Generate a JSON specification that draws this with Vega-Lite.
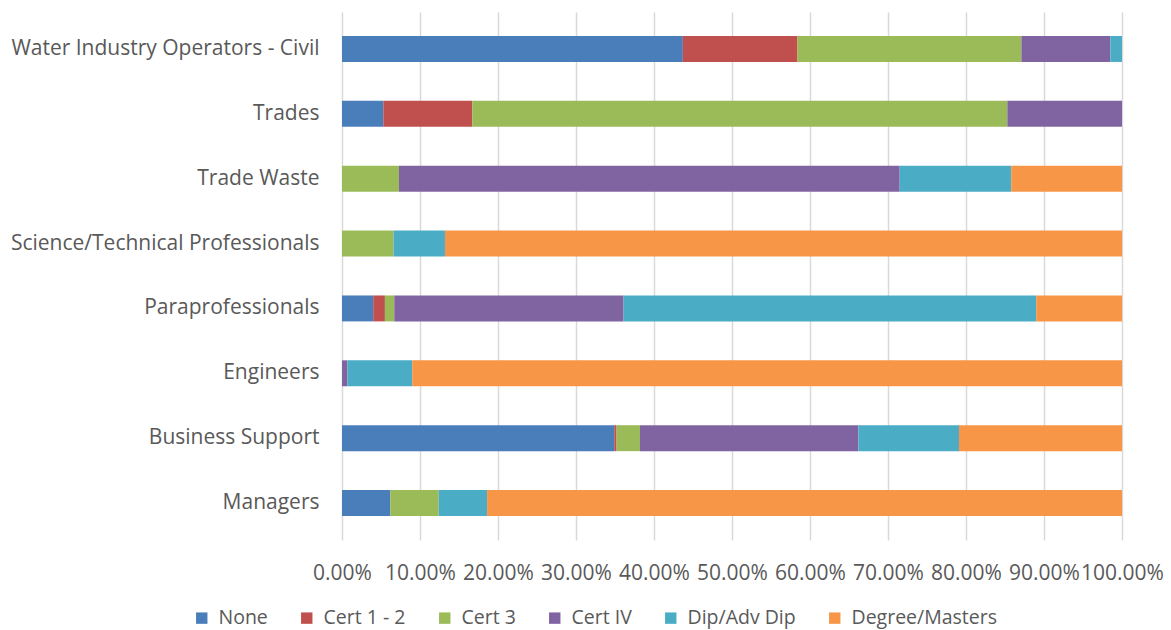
{
  "$schema": "https://vega.github.io/schema/vega-lite/v6.json",
  "autosize": {"type": "none"},
  "width": 780,
  "height": 528,
  "padding": {"left": 342, "top": 12, "right": 49, "bottom": 90},
  "background": "white",
  "config": {
    "font": "Open Sans",
    "view": {"stroke": null},
    "axis": {"labelColor": "#595959", "labelFont": "Open Sans", "titleColor": "#595959"},
    "legend": {"labelColor": "#595959", "labelFont": "Open Sans"}
  },
  "data": {
    "values": [
      {"role": "Water Industry Operators - Civil", "level": "None", "share": 0.437},
      {"role": "Water Industry Operators - Civil", "level": "Cert 1 - 2", "share": 0.147},
      {"role": "Water Industry Operators - Civil", "level": "Cert 3", "share": 0.287},
      {"role": "Water Industry Operators - Civil", "level": "Cert IV", "share": 0.114},
      {"role": "Water Industry Operators - Civil", "level": "Dip/Adv Dip", "share": 0.015},
      {"role": "Trades", "level": "None", "share": 0.053},
      {"role": "Trades", "level": "Cert 1 - 2", "share": 0.114},
      {"role": "Trades", "level": "Cert 3", "share": 0.686},
      {"role": "Trades", "level": "Cert IV", "share": 0.147},
      {"role": "Trade Waste", "level": "Cert 3", "share": 0.073},
      {"role": "Trade Waste", "level": "Cert IV", "share": 0.642},
      {"role": "Trade Waste", "level": "Dip/Adv Dip", "share": 0.143},
      {"role": "Trade Waste", "level": "Degree/Masters", "share": 0.142},
      {"role": "Science/Technical Professionals", "level": "Cert 3", "share": 0.066},
      {"role": "Science/Technical Professionals", "level": "Dip/Adv Dip", "share": 0.066},
      {"role": "Science/Technical Professionals", "level": "Degree/Masters", "share": 0.868},
      {"role": "Paraprofessionals", "level": "None", "share": 0.04},
      {"role": "Paraprofessionals", "level": "Cert 1 - 2", "share": 0.015},
      {"role": "Paraprofessionals", "level": "Cert 3", "share": 0.012},
      {"role": "Paraprofessionals", "level": "Cert IV", "share": 0.294},
      {"role": "Paraprofessionals", "level": "Dip/Adv Dip", "share": 0.529},
      {"role": "Paraprofessionals", "level": "Degree/Masters", "share": 0.11},
      {"role": "Engineers", "level": "Cert IV", "share": 0.007},
      {"role": "Engineers", "level": "Dip/Adv Dip", "share": 0.083},
      {"role": "Engineers", "level": "Degree/Masters", "share": 0.91},
      {"role": "Business Support", "level": "None", "share": 0.349},
      {"role": "Business Support", "level": "Cert 1 - 2", "share": 0.003},
      {"role": "Business Support", "level": "Cert 3", "share": 0.03},
      {"role": "Business Support", "level": "Cert IV", "share": 0.28},
      {"role": "Business Support", "level": "Dip/Adv Dip", "share": 0.129},
      {"role": "Business Support", "level": "Degree/Masters", "share": 0.209},
      {"role": "Managers", "level": "None", "share": 0.062},
      {"role": "Managers", "level": "Cert 3", "share": 0.062},
      {"role": "Managers", "level": "Dip/Adv Dip", "share": 0.062},
      {"role": "Managers", "level": "Degree/Masters", "share": 0.814}
    ]
  },
  "transform": [
    {"window": [{"op": "row_number", "as": "seq"}], "groupby": ["role"]}
  ],
  "mark": {"type": "bar"},
  "encoding": {
    "y": {
      "field": "role",
      "type": "nominal",
      "sort": ["Water Industry Operators - Civil", "Trades", "Trade Waste", "Science/Technical Professionals", "Paraprofessionals", "Engineers", "Business Support", "Managers"],
      "scale": {"paddingInner": 0.6, "paddingOuter": 0.37},
      "axis": {
        "title": null,
        "domain": false,
        "ticks": false,
        "labelFontSize": 21,
        "labelPadding": 23,
        "labelLimit": 400
      }
    },
    "x": {
      "field": "share",
      "type": "quantitative",
      "stack": "zero",
      "scale": {"domain": [0, 1], "nice": false},
      "axis": {
        "title": null,
        "format": ".2%",
        "values": [0, 0.1, 0.2, 0.3, 0.4, 0.5, 0.6, 0.7, 0.8, 0.9, 1],
        "domain": false,
        "ticks": false,
        "grid": true,
        "gridColor": "#d9d9d9",
        "gridWidth": 1.5,
        "labelFontSize": 21,
        "labelPadding": 22,
        "labelOverlap": false,
        "labelFlush": false
      }
    },
    "color": {
      "field": "level",
      "type": "nominal",
      "scale": {
        "domain": ["None", "Cert 1 - 2", "Cert 3", "Cert IV", "Dip/Adv Dip", "Degree/Masters"],
        "range": ["#4a7ebb", "#c0504d", "#9bbb59", "#8064a2", "#4bacc6", "#f79646"]
      },
      "legend": {
        "title": null,
        "orient": "none",
        "direction": "horizontal",
        "legendX": -150,
        "legendY": 596,
        "symbolType": "square",
        "symbolSize": 130,
        "symbolStrokeWidth": 0,
        "labelFontSize": 19.5,
        "labelOffset": 7,
        "columnPadding": 29
      }
    },
    "order": {"field": "seq", "sort": "ascending"}
  }
}
